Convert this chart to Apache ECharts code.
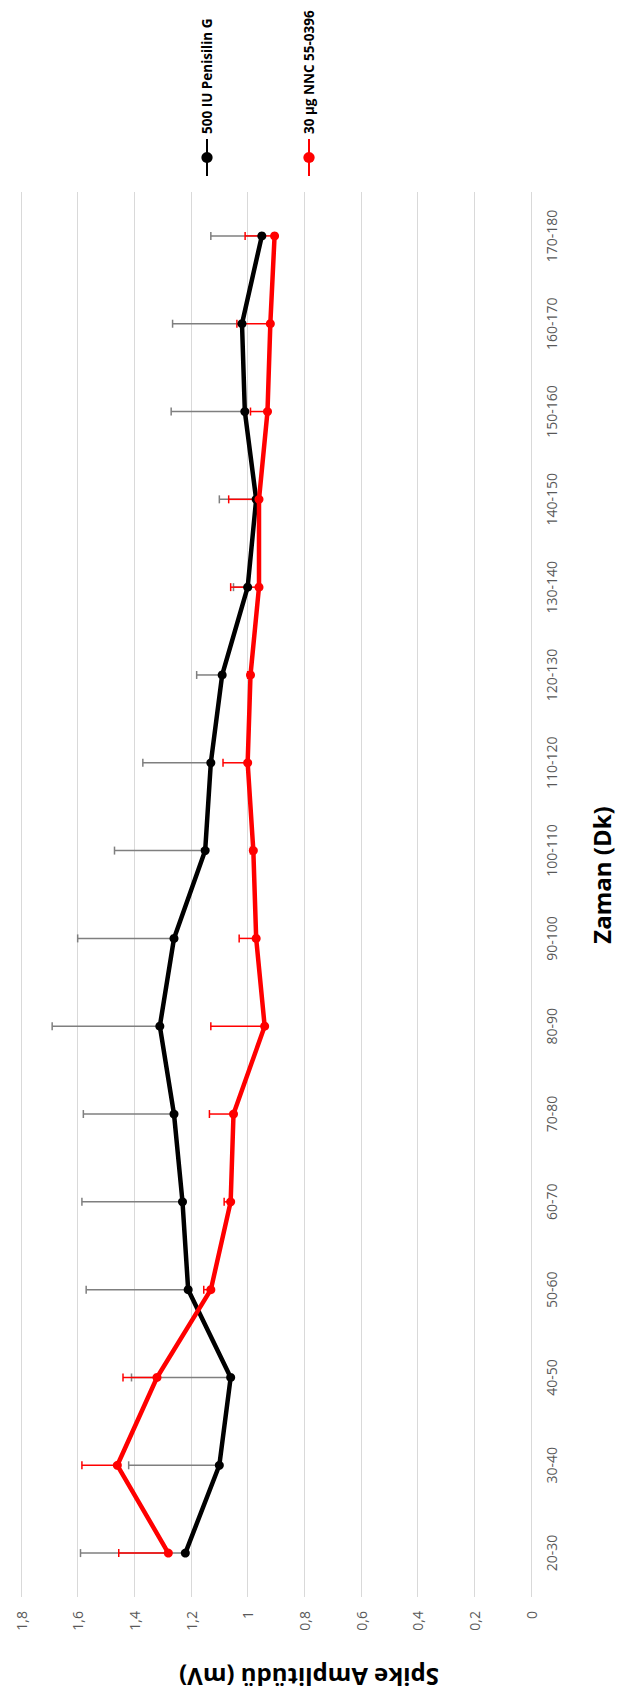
<!DOCTYPE html>
<html>
<head>
<meta charset="utf-8">
<script src="https://cdn.jsdelivr.net/npm/echarts@6/dist/echarts.min.js"></script>
<style>
  html, body { margin: 0; padding: 0; width: 619px; height: 1697px; overflow: hidden; background: #fff; }
  /* chart is drawn landscape, then turned a quarter turn to the left */
  #chart {
    position: absolute; left: 0; top: 0;
    width: 1697px; height: 619px;
    transform-origin: 0 0;
    transform: translate(0, 1697px) rotate(-90deg);
  }
</style>
</head>
<body>
<div id="chart"></div>
<script>
// Zaman (Dk)
var categories = ['20-30', '30-40', '40-50', '50-60', '60-70', '70-80', '80-90', '90-100',
  '100-110', '110-120', '120-130', '130-140', '140-150', '150-160', '160-170', '170-180'];

// 500 IU Penisilin G: ortalama ve (+) hata
var penisilin = [1.22, 1.10, 1.06, 1.21, 1.23, 1.26, 1.31, 1.26, 1.15, 1.13, 1.09, 1.00, 0.97, 1.01, 1.02, 0.95];
var penisilinErr = [0.37, 0.32, 0.35, 0.36, 0.355, 0.32, 0.38, 0.34, 0.32, 0.24, 0.09, 0.05, 0.13, 0.26, 0.245, 0.18];

// 30 µg NNC 55-0396
var nnc = [1.28, 1.46, 1.32, 1.13, 1.06, 1.05, 0.94, 0.97, 0.98, 1.00, 0.99, 0.96, 0.96, 0.93, 0.92, 0.905];
var nncErr = [0.175, 0.125, 0.12, 0.025, 0.023, 0.085, 0.19, 0.06, 0.01, 0.087, 0.01, 0.10, 0.107, 0.06, 0.118, 0.104];

var seriesNames = ['500 IU Penisilin G', '30 µg NNC 55-0396'];
var yTicks = { min: 0, max: 1.8, step: 0.2 };

var FONT = 'Open Sans';

function errData(mean, err) {
  return mean.map(function (m, i) { return [i, m, m + err[i]]; });
}

function errRender(color) {
  return function (params, api) {
    var p0 = api.coord([api.value(0), api.value(1)]);
    var p1 = api.coord([api.value(0), api.value(2)]);
    var cap = 4;
    var style = { stroke: color, lineWidth: 1.5 };
    return {
      type: 'group',
      children: [
        { type: 'line', shape: { x1: p0[0], y1: p0[1], x2: p1[0], y2: p1[1] }, style: style },
        { type: 'line', shape: { x1: p1[0] - cap, y1: p1[1], x2: p1[0] + cap, y2: p1[1] }, style: style }
      ]
    };
  };
}

var myChart = echarts.init(document.getElementById('chart'), null, { renderer: 'svg', width: 1697, height: 619 });

var legendText = { fontFamily: FONT, fontSize: 13.5, fontWeight: 'bold', color: '#000' };

myChart.setOption({
  animation: false,
  textStyle: { fontFamily: FONT },
  grid: { left: 100, right: 192, top: 21, bottom: 88 },
  legend: [
    {
      data: [seriesNames[0]], left: 1515, top: 195, orient: 'vertical',
      itemWidth: 37, itemHeight: 14, itemGap: 5,
      textStyle: legendText
    },
    {
      data: [seriesNames[1]], left: 1515, top: 297, orient: 'vertical',
      itemWidth: 37, itemHeight: 14, itemGap: 5,
      textStyle: legendText
    }
  ],
  xAxis: {
    type: 'category',
    data: categories,
    boundaryGap: true,
    axisLine: { show: false },
    axisTick: { show: false },
    axisLabel: { color: '#595959', fontSize: 14, margin: 13, fontFamily: FONT }
  },
  yAxis: {
    type: 'value',
    min: yTicks.min,
    max: yTicks.max,
    interval: yTicks.step,
    axisLine: { show: false },
    axisTick: { show: false },
    splitLine: { lineStyle: { color: '#d9d9d9', width: 1 } },
    axisLabel: {
      color: '#595959', fontSize: 14, margin: 14, fontFamily: FONT,
      formatter: function (v) { return String(+v.toFixed(1)).replace('.', ','); }
    }
  },
  graphic: [
    {
      // Spike Amplitüdü (mV)
      type: 'text', x: 20, y: 309, rotation: Math.PI / 2,
      style: {
        text: 'Spike Amplitüdü (mV)', font: 'bold 24px "Open Sans"', fill: '#000',
        textAlign: 'center', textVerticalAlign: 'middle'
      }
    },
    {
      type: 'text', x: 822, y: 601,
      style: {
        text: 'Zaman (Dk)', font: 'bold 24px "Open Sans"', fill: '#000',
        textAlign: 'center', textVerticalAlign: 'middle'
      }
    }
  ],
  series: [
    {
      type: 'custom', name: 'errPen', z: 1, silent: true,
      renderItem: errRender('#7f7f7f'),
      data: errData(penisilin, penisilinErr)
    },
    {
      type: 'custom', name: 'errNnc', z: 2, silent: true,
      renderItem: errRender('#ff0000'),
      data: errData(nnc, nncErr)
    },
    {
      name: seriesNames[0], type: 'line', z: 3,
      data: penisilin,
      symbol: 'circle', symbolSize: 9,
      itemStyle: { color: '#000' },
      lineStyle: { color: '#000', width: 4.5 }
    },
    {
      name: seriesNames[1], type: 'line', z: 4,
      data: nnc,
      symbol: 'circle', symbolSize: 9,
      itemStyle: { color: '#ff0000' },
      lineStyle: { color: '#ff0000', width: 4.5 }
    }
  ]
});
</script>
</body>
</html>
